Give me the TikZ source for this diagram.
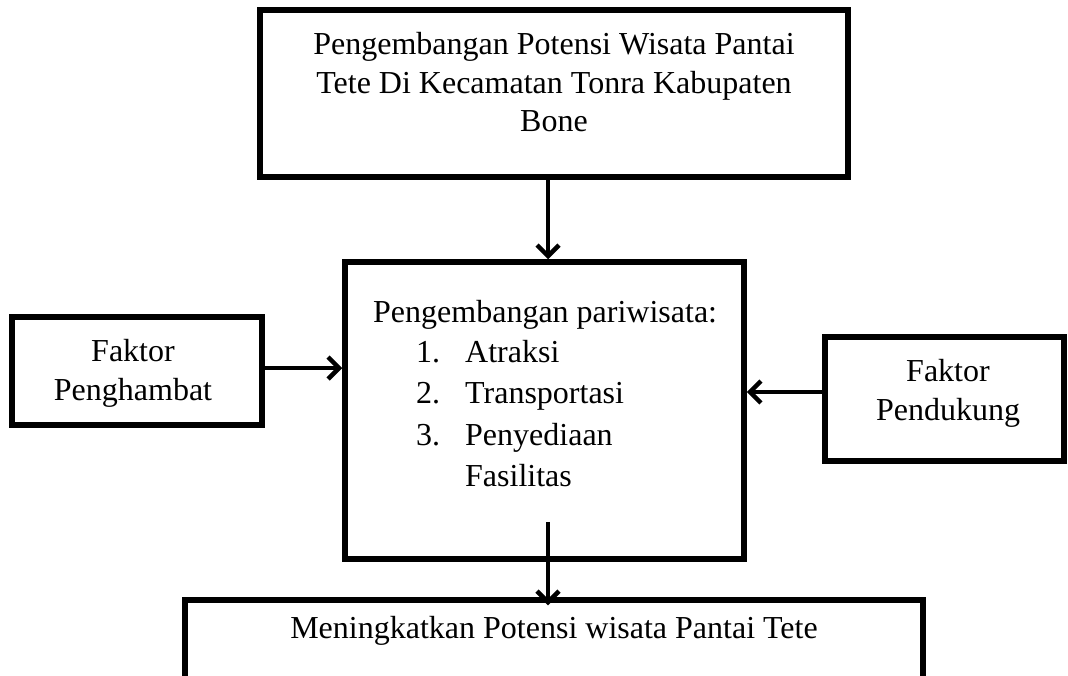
\documentclass[tikz,border=0pt]{standalone}
\usepackage{fontspec}
\setmainfont{Liberation Serif}
\usetikzlibrary{arrows.meta,positioning}

\begin{document}
\begin{tikzpicture}[x=1pt,y=-1pt,
  kotak/.style={draw, line width=5.5pt, inner sep=0pt},
  teks/.style={font=\fontsize{32}{38.5}\selectfont, inner sep=0pt, align=center},
  panah/.style={line width=4.5pt, -{Straight Barb[length=11pt,width=22pt]}}]
  \useasboundingbox (0,0) rectangle (1068,675);
  \clip (0,0) rectangle (1068,675);
  % kotak-kotak
  \node[kotak, minimum width=588pt, minimum height=167pt] (judul) at (554,93.5) {};
  \node[kotak, minimum width=399pt, minimum height=297pt] (tengah) at (544.5,410.5) {};
  \node[kotak, minimum width=250pt, minimum height=108pt] (kiri) at (137,371) {};
  \node[kotak, minimum width=239pt, minimum height=124pt] (kanan) at (944.5,399) {};
  \node[kotak, minimum width=738pt, minimum height=160pt] (hasil) at (554,680) {};
  % teks
  \node[teks] (judul-teks) at (554,82.5) {Pengembangan Potensi Wisata Pantai\\Tete Di Kecamatan Tonra Kabupaten\\Bone};
  \node[teks] (kiri-teks) at (133,373.5) {Faktor\\Penghambat};
  \node[teks] (kanan-teks) at (948,393.5) {Faktor\\Pendukung};
  \node[teks, anchor=base west] (tengah-teks) at (373,322) {Pengembangan pariwisata:};
  \node[teks, anchor=base west] (no1) at (416,362) {1.};
  \node[teks, anchor=base west] (butir1) at (465,362) {Atraksi};
  \node[teks, anchor=base west] (no2) at (416,403.5) {2.};
  \node[teks, anchor=base west] (butir2) at (465,403.5) {Transportasi};
  \node[teks, anchor=base west] (no3) at (416,445) {3.};
  \node[teks, anchor=base west] (butir3) at (465,445) {Penyediaan};
  \node[teks, anchor=base west] (butir3b) at (465,486.5) {Fasilitas};
  \node[teks, anchor=base] (hasil-teks) at (554,638) {Meningkatkan Potensi wisata Pantai Tete};
  % panah
  \coordinate (awal) at ([xshift=3.5pt,yshift=40pt]tengah.south);
  \draw[panah] ([xshift=-6pt]judul.south) -- ([xshift=3.5pt]tengah.north);
  \draw[panah] ([yshift=3pt]kiri.east) -- ([yshift=3pt]kiri.east -| tengah.west);
  \draw[panah] ([yshift=7pt]kanan.west) -- ([yshift=7pt]kanan.west -| tengah.east);
  \draw[panah] (awal) -- ([yshift=-8pt]awal |- hasil.north);
\end{tikzpicture}
\end{document}
